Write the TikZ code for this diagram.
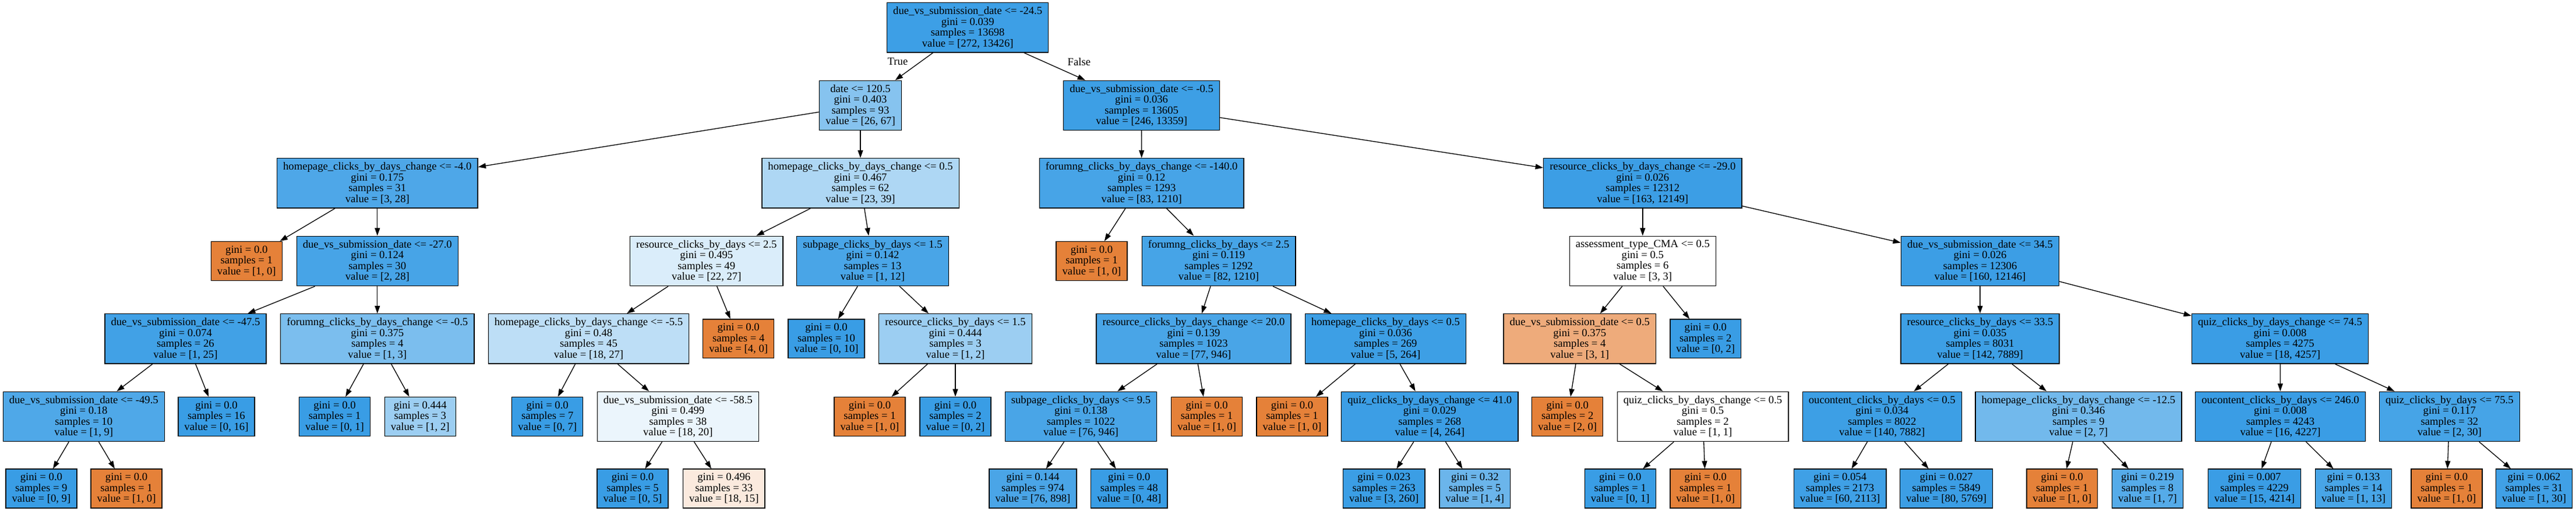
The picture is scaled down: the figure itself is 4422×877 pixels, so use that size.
\documentclass[tikz,border=0pt]{standalone}
\usepackage{fontspec}
\setmainfont{Liberation Serif}
\usetikzlibrary{arrows.meta}
\definecolor{cA}{RGB}{229,129,57}
\definecolor{cB}{RGB}{57,157,229}
\begin{document}
\begin{tikzpicture}[x=1pt,y=-1pt,
  tn/.style={draw=black, line width=1.33pt, align=center, inner xsep=10.6pt, inner ysep=0pt,
    minimum height=85.3pt, font=\fontsize{18.67}{18.6}\selectfont},
  lf/.style={tn, minimum height=66.7pt},
  edge/.style={line width=1.33pt, -{Triangle[length=13.3pt,width=9pt]}},
  lbl/.style={inner sep=0pt, font=\fontsize{18.67}{18.6}\selectfont}]
\useasboundingbox[fill=white] (0,0) rectangle (4422,877);
% rank 0
\node[tn,fill=cB!98!white] (n0) at (1661.2,47.3) {due\_vs\_submission\_date <= -24.5\\gini = 0.039\\samples = 13698\\value = [272, 13426]};
% rank 1
\node[tn,fill=cB!61.2!white] (n1) at (1477,180.9) {date <= 120.5\\gini = 0.403\\samples = 93\\value = [26, 67]};
\node[tn,fill=cB!98.2!white] (n26) at (1959.6,180.9) {due\_vs\_submission\_date <= -0.5\\gini = 0.036\\samples = 13605\\value = [246, 13359]};
% rank 2
\node[tn,fill=cB!89.3!white] (n2) at (647.8,314.4) {homepage\_clicks\_by\_days\_change <= -4.0\\gini = 0.175\\samples = 31\\value = [3, 28]};
\node[tn,fill=cB!41!white] (n13) at (1477,314.4) {homepage\_clicks\_by\_days\_change <= 0.5\\gini = 0.467\\samples = 62\\value = [23, 39]};
\node[tn,fill=cB!93.1!white] (n27) at (1959.7,314.4) {forumng\_clicks\_by\_days\_change <= -140.0\\gini = 0.12\\samples = 1293\\value = [83, 1210]};
\node[tn,fill=cB!98.7!white] (n40) at (2819.8,314.4) {resource\_clicks\_by\_days\_change <= -29.0\\gini = 0.026\\samples = 12312\\value = [163, 12149]};
% rank 3
\node[lf,fill=cA] (n3) at (423.3,447.9) {gini = 0.0\\samples = 1\\value = [1, 0]};
\node[tn,fill=cB!92.9!white] (n4) at (647.8,447.9) {due\_vs\_submission\_date <= -27.0\\gini = 0.124\\samples = 30\\value = [2, 28]};
\node[tn,fill=cB!18.5!white] (n14) at (1212.8,447.9) {resource\_clicks\_by\_days <= 2.5\\gini = 0.495\\samples = 49\\value = [22, 27]};
\node[tn,fill=cB!91.7!white] (n21) at (1498,447.9) {subpage\_clicks\_by\_days <= 1.5\\gini = 0.142\\samples = 13\\value = [1, 12]};
\node[lf,fill=cA] (n28) at (1874,447.9) {gini = 0.0\\samples = 1\\value = [1, 0]};
\node[tn,fill=cB!93.2!white] (n29) at (2092,447.9) {forumng\_clicks\_by\_days <= 2.5\\gini = 0.119\\samples = 1292\\value = [82, 1210]};
\node[tn,fill=white] (n41) at (2819.8,447.9) {assessment\_type\_CMA <= 0.5\\gini = 0.5\\samples = 6\\value = [3, 3]};
\node[tn,fill=cB!98.7!white] (n48) at (3399,447.9) {due\_vs\_submission\_date <= 34.5\\gini = 0.026\\samples = 12306\\value = [160, 12146]};
% rank 4
\node[tn,fill=cB!96!white] (n5) at (318.5,581.4) {due\_vs\_submission\_date <= -47.5\\gini = 0.074\\samples = 26\\value = [1, 25]};
\node[tn,fill=cB!66.7!white] (n10) at (647.8,581.4) {forumng\_clicks\_by\_days\_change <= -0.5\\gini = 0.375\\samples = 4\\value = [1, 3]};
\node[tn,fill=cB!33.3!white] (n15) at (1010.5,581.4) {homepage\_clicks\_by\_days\_change <= -5.5\\gini = 0.48\\samples = 45\\value = [18, 27]};
\node[lf,fill=cA] (n20) at (1267.7,581.4) {gini = 0.0\\samples = 4\\value = [4, 0]};
\node[lf,fill=cB] (n22) at (1418.5,581.4) {gini = 0.0\\samples = 10\\value = [0, 10]};
\node[tn,fill=cB!50!white] (n23) at (1640,581.4) {resource\_clicks\_by\_days <= 1.5\\gini = 0.444\\samples = 3\\value = [1, 2]};
\node[tn,fill=cB!91.9!white] (n30) at (2049,581.4) {resource\_clicks\_by\_days\_change <= 20.0\\gini = 0.139\\samples = 1023\\value = [77, 946]};
\node[tn,fill=cB!98.1!white] (n35) at (2378.5,581.4) {homepage\_clicks\_by\_days <= 0.5\\gini = 0.036\\samples = 269\\value = [5, 264]};
\node[tn,fill=cA!66.7!white] (n42) at (2711.8,581.4) {due\_vs\_submission\_date <= 0.5\\gini = 0.375\\samples = 4\\value = [3, 1]};
\node[lf,fill=cB] (n47) at (2927.8,581.4) {gini = 0.0\\samples = 2\\value = [0, 2]};
\node[tn,fill=cB!98.2!white] (n49) at (3399,581.4) {resource\_clicks\_by\_days <= 33.5\\gini = 0.035\\samples = 8031\\value = [142, 7889]};
\node[tn,fill=cB!99.6!white] (n56) at (3914,581.4) {quiz\_clicks\_by\_days\_change <= 74.5\\gini = 0.008\\samples = 4275\\value = [18, 4257]};
% rank 5
\node[tn,fill=cB!88.9!white] (n6) at (143.8,714.9) {due\_vs\_submission\_date <= -49.5\\gini = 0.18\\samples = 10\\value = [1, 9]};
\node[lf,fill=cB] (n9) at (371.5,714.9) {gini = 0.0\\samples = 16\\value = [0, 16]};
\node[lf,fill=cB] (n11) at (574.5,714.9) {gini = 0.0\\samples = 1\\value = [0, 1]};
\node[lf,fill=cB!50!white] (n12) at (721.2,714.9) {gini = 0.444\\samples = 3\\value = [1, 2]};
\node[lf,fill=cB] (n16) at (939.7,714.9) {gini = 0.0\\samples = 7\\value = [0, 7]};
\node[tn,fill=cB!10!white] (n17) at (1163.8,714.9) {due\_vs\_submission\_date <= -58.5\\gini = 0.499\\samples = 38\\value = [18, 20]};
\node[lf,fill=cA] (n24) at (1493,714.9) {gini = 0.0\\samples = 1\\value = [1, 0]};
\node[lf,fill=cB] (n25) at (1640,714.9) {gini = 0.0\\samples = 2\\value = [0, 2]};
\node[tn,fill=cB!92!white] (n31) at (1855.5,714.9) {subpage\_clicks\_by\_days <= 9.5\\gini = 0.138\\samples = 1022\\value = [76, 946]};
\node[lf,fill=cA] (n34) at (2071.6,714.9) {gini = 0.0\\samples = 1\\value = [1, 0]};
\node[lf,fill=cA] (n36) at (2218,714.9) {gini = 0.0\\samples = 1\\value = [1, 0]};
\node[tn,fill=cB!98.5!white] (n37) at (2454.3,714.9) {quiz\_clicks\_by\_days\_change <= 41.0\\gini = 0.029\\samples = 268\\value = [4, 264]};
\node[lf,fill=cA] (n43) at (2690.7,714.9) {gini = 0.0\\samples = 2\\value = [2, 0]};
\node[tn,fill=white] (n44) at (2923,714.9) {quiz\_clicks\_by\_days\_change <= 0.5\\gini = 0.5\\samples = 2\\value = [1, 1]};
\node[tn,fill=cB!98.2!white] (n50) at (3230.7,714.9) {oucontent\_clicks\_by\_days <= 0.5\\gini = 0.034\\samples = 8022\\value = [140, 7882]};
\node[tn,fill=cB!71.4!white] (n53) at (3567.9,714.9) {homepage\_clicks\_by\_days\_change <= -12.5\\gini = 0.346\\samples = 9\\value = [2, 7]};
\node[tn,fill=cB!99.6!white] (n57) at (3914.5,714.9) {oucontent\_clicks\_by\_days <= 246.0\\gini = 0.008\\samples = 4243\\value = [16, 4227]};
\node[tn,fill=cB!93.3!white] (n60) at (4204.8,714.9) {quiz\_clicks\_by\_days <= 75.5\\gini = 0.117\\samples = 32\\value = [2, 30]};
% rank 6
\node[lf,fill=cB] (n7) at (70.9,838.5) {gini = 0.0\\samples = 9\\value = [0, 9]};
\node[lf,fill=cA] (n8) at (217.1,838.5) {gini = 0.0\\samples = 1\\value = [1, 0]};
\node[lf,fill=cB] (n18) at (1086,838.5) {gini = 0.0\\samples = 5\\value = [0, 5]};
\node[lf,fill=cA!16.7!white] (n19) at (1242.8,838.5) {gini = 0.496\\samples = 33\\value = [18, 15]};
\node[lf,fill=cB!91.5!white] (n32) at (1773,838.5) {gini = 0.144\\samples = 974\\value = [76, 898]};
\node[lf,fill=cB] (n33) at (1938.3,838.5) {gini = 0.0\\samples = 48\\value = [0, 48]};
\node[lf,fill=cB!98.8!white] (n38) at (2375.7,838.5) {gini = 0.023\\samples = 263\\value = [3, 260]};
\node[lf,fill=cB!75!white] (n39) at (2531.8,838.5) {gini = 0.32\\samples = 5\\value = [1, 4]};
\node[lf,fill=cB] (n45) at (2781.2,838.5) {gini = 0.0\\samples = 1\\value = [0, 1]};
\node[lf,fill=cA] (n46) at (2927.8,838.5) {gini = 0.0\\samples = 1\\value = [1, 0]};
\node[lf,fill=cB!97.2!white] (n51) at (3158.6,838.5) {gini = 0.054\\samples = 2173\\value = [60, 2113]};
\node[lf,fill=cB!98.6!white] (n52) at (3341,838.5) {gini = 0.027\\samples = 5849\\value = [80, 5769]};
\node[lf,fill=cA] (n54) at (3539.8,838.5) {gini = 0.0\\samples = 1\\value = [1, 0]};
\node[lf,fill=cB!85.7!white] (n55) at (3686.5,838.5) {gini = 0.219\\samples = 8\\value = [1, 7]};
\node[lf,fill=cB!99.6!white] (n58) at (3870,838.5) {gini = 0.007\\samples = 4229\\value = [15, 4214]};
\node[lf,fill=cB!92.3!white] (n59) at (4040,838.5) {gini = 0.133\\samples = 14\\value = [1, 13]};
\node[lf,fill=cA] (n61) at (4200,838.5) {gini = 0.0\\samples = 1\\value = [1, 0]};
\node[lf,fill=cB!96.7!white] (n62) at (4350,838.5) {gini = 0.062\\samples = 31\\value = [1, 30]};
% labels
\node[lbl] (tlab) at (1541,105) {True};
\node[lbl] (flab) at (1852.4,106.5) {False};
% edges
\foreach \a/\b in {0/1,0/26,1/2,1/13,2/3,2/4,4/5,4/10,5/6,5/9,6/7,6/8,10/11,10/12,
  13/14,13/21,14/15,14/20,15/16,15/17,17/18,17/19,21/22,21/23,23/24,23/25,
  26/27,26/40,27/28,27/29,29/30,29/35,30/31,30/34,31/32,31/33,35/36,35/37,37/38,37/39,
  40/41,40/48,41/42,41/47,42/43,42/44,44/45,44/46,48/49,48/56,49/50,49/53,50/51,50/52,
  53/54,53/55,56/57,56/60,57/58,57/59,60/61,60/62}
  \draw[edge] (n\a) -- (n\b);
\end{tikzpicture}
\end{document}
